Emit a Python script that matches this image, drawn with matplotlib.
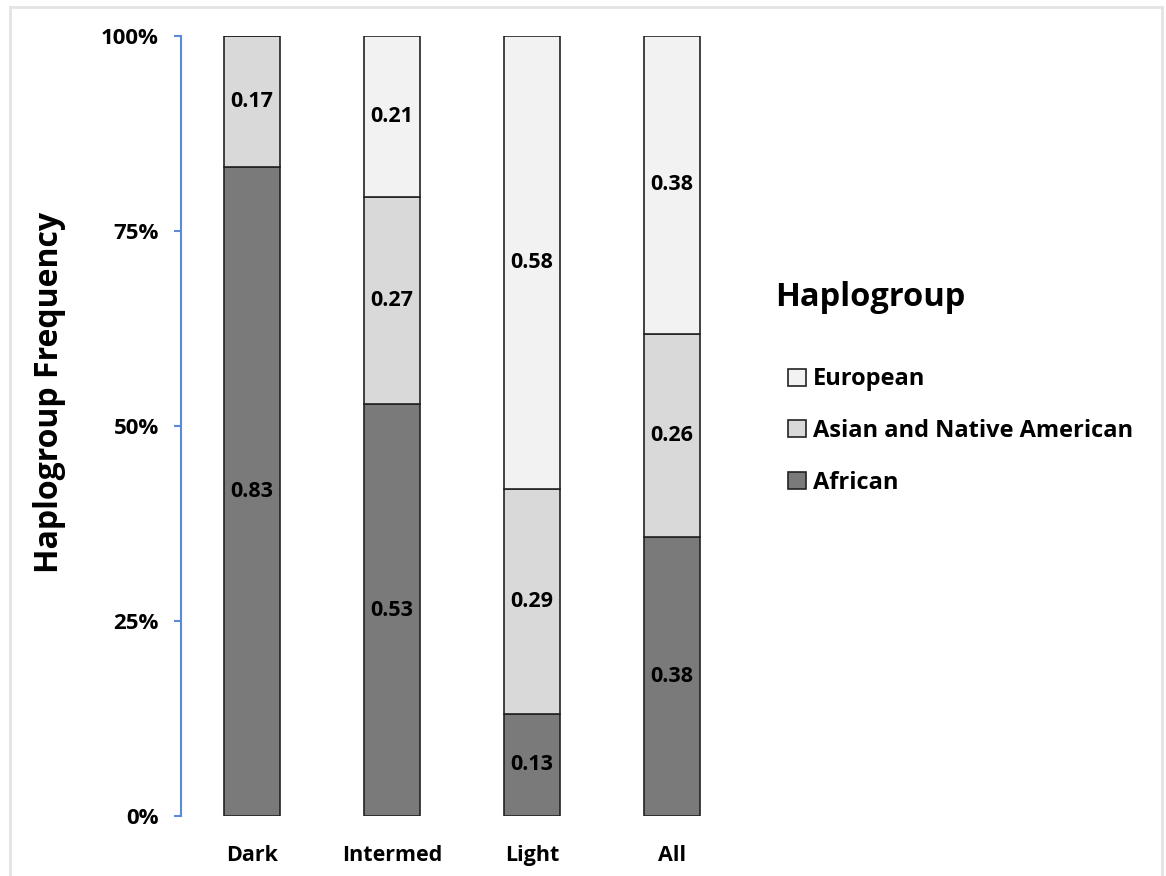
import matplotlib
matplotlib.use("Agg")
import matplotlib.pyplot as plt
from matplotlib.patches import Patch
from matplotlib.lines import Line2D
import numpy as np

categories = ["Dark", "Intermed", "Light", "All"]
african = [0.832, 0.528, 0.131, 0.358]
asian = [0.168, 0.266, 0.288, 0.260]
european = [0.0, 0.206, 0.581, 0.382]
african_labels = ["0.83", "0.53", "0.13", "0.38"]
asian_labels = ["0.17", "0.27", "0.29", "0.26"]
european_labels = ["", "0.21", "0.58", "0.38"]
y_ticks = [0, 0.25, 0.5, 0.75, 1.0]
y_ticklabels = ["0%", "25%", "50%", "75%", "100%"]
series_names = ["European", "Asian and Native American", "African"]
legend_title = "Haplogroup"

plt.rcParams['font.family'] = ['Open Sans', 'DejaVu Sans']

c_afr = "#7a7a7a"
c_asn = "#d9d9d9"
c_eur = "#f2f2f2"
edge = "#222222"

fig = plt.figure(figsize=(11.66, 8.76), dpi=100)
ax = fig.add_axes([181/1166, 1-816/876, (742-181)/1166, (816-36)/876])

x = np.arange(len(categories))
w = 0.4
afr = np.array(african)
asn = np.array(asian)
eur = np.array(european)
ax.bar(x, afr, w, color=c_afr, edgecolor=edge, linewidth=1.2, zorder=2)
ax.bar(x, asn, w, bottom=afr, color=c_asn, edgecolor=edge, linewidth=1.2, zorder=2)
ax.bar(x, eur, w, bottom=afr+asn, color=c_eur, edgecolor=edge, linewidth=1.2, zorder=2)

fs = 15.5
for i in range(len(categories)):
    if african_labels[i]:
        ax.text(x[i], afr[i]/2, african_labels[i], ha='center', va='center', fontsize=fs, fontweight='bold', zorder=3)
    if asian_labels[i]:
        ax.text(x[i], afr[i]+asn[i]/2, asian_labels[i], ha='center', va='center', fontsize=fs, fontweight='bold', zorder=3)
    if european_labels[i] and eur[i] > 0:
        ax.text(x[i], afr[i]+asn[i]+eur[i]/2, european_labels[i], ha='center', va='center', fontsize=fs, fontweight='bold', zorder=3)

ax.set_xlim(-0.507, 3.5)
ax.set_ylim(0, 1)
ax.set_yticks(y_ticks)
ax.set_yticklabels(y_ticklabels, fontsize=16, fontweight='bold')
ax.set_xticks(x)
ax.set_xticklabels(categories, fontsize=15.5, fontweight='bold')
ax.tick_params(axis='x', length=0, pad=21)
ax.tick_params(axis='y', length=5, width=1.5, color="#5b8bd6", pad=11, direction='out')
for s in ['top', 'right', 'bottom']:
    ax.spines[s].set_visible(False)
ax.spines['left'].set_color("#5b8bd6")
ax.spines['left'].set_linewidth(1.5)
ax.set_ylabel("Haplogroup Frequency", fontsize=23, fontweight='bold')
ax.yaxis.set_label_coords(-0.205, (816-392)/780)

fig.text(775/1166, 1-298/876, legend_title, fontsize=23.5, fontweight='bold', ha='left', va='center')
handles = [Patch(facecolor=c, edgecolor=edge, linewidth=1.2) for c in (c_eur, c_asn, c_afr)]
leg = fig.legend(handles, series_names, loc='upper left', bbox_to_anchor=(779/1166, 1-358/876),
                 frameon=False, prop={'size': 17, 'weight': 'bold'}, handlelength=0.75, handleheight=0.75,
                 handletextpad=0.3, labelspacing=1.17, borderaxespad=0)

# light grey frame around figure
fig.add_artist(Line2D([10/1166, 10/1166], [0, 1-7/876], transform=fig.transFigure, color="#e3e3e3", lw=2))
fig.add_artist(Line2D([10/1166, 1162/1166], [1-7/876, 1-7/876], transform=fig.transFigure, color="#e3e3e3", lw=2))
fig.add_artist(Line2D([1162/1166, 1162/1166], [0, 1-7/876], transform=fig.transFigure, color="#e3e3e3", lw=2))

fig.savefig("out.png", dpi=100)
